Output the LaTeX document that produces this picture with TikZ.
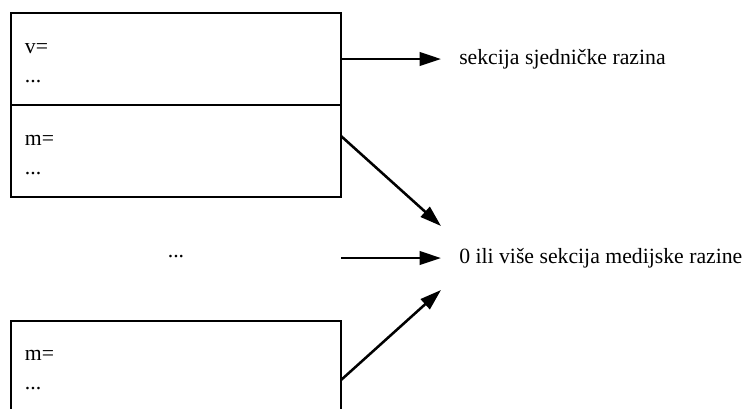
\documentclass[tikz,border=0pt]{standalone}
\usepackage{fontspec}
\setmainfont{Liberation Serif}
\usetikzlibrary{arrows.meta,positioning}

\begin{document}
\begin{tikzpicture}[x=0.75pt, y=-0.75pt,
  sec/.style = {draw, line width=1.5pt, outer sep=0pt, anchor=north west, text width=226.5pt, inner xsep=10.5pt, inner ysep=0pt, text height=30pt, text depth=39pt, align=left, font=\fontsize{16.3}{21.75}\selectfont},
  lbl/.style = {anchor=west, inner sep=0pt, font=\fontsize{16.3}{19.5}\selectfont},
  link/.style = {line width=1.9pt, -{Triangle[length=16pt,width=10pt]}}]
\useasboundingbox (0,0) rectangle (747,408);
\clip (0,0) rectangle (747,408);
\node[sec] (vsec) at (11,13) {v=\\...};
\node[sec] (msec) at (vsec.south west) {m=\\...};
\node[sec] (mlast) at (11,320.7) {m=\\...};
\node[inner sep=0pt, font=\fontsize{16.3}{19.5}\selectfont] (mid) at (176,257) {...};
\node[lbl, right=88.5pt of vsec] (session) {sekcija sjedničke razina};
\node[lbl] (media) at (459,258) {0 ili više sekcija medijske razine};
\draw[link] (vsec.east) -- ([xshift=-13.5pt]session.west);
\draw[link] ([yshift=11.25pt]msec.east) -- ([shift={(-18,-32)}]media.west);
\draw[link] (media.west -| msec.east) -- ([xshift=-13.5pt]media.west);
\draw[link] ([yshift=-10pt]mlast.east) -- ([shift={(-18,32)}]media.west);
\end{tikzpicture}
\end{document}
